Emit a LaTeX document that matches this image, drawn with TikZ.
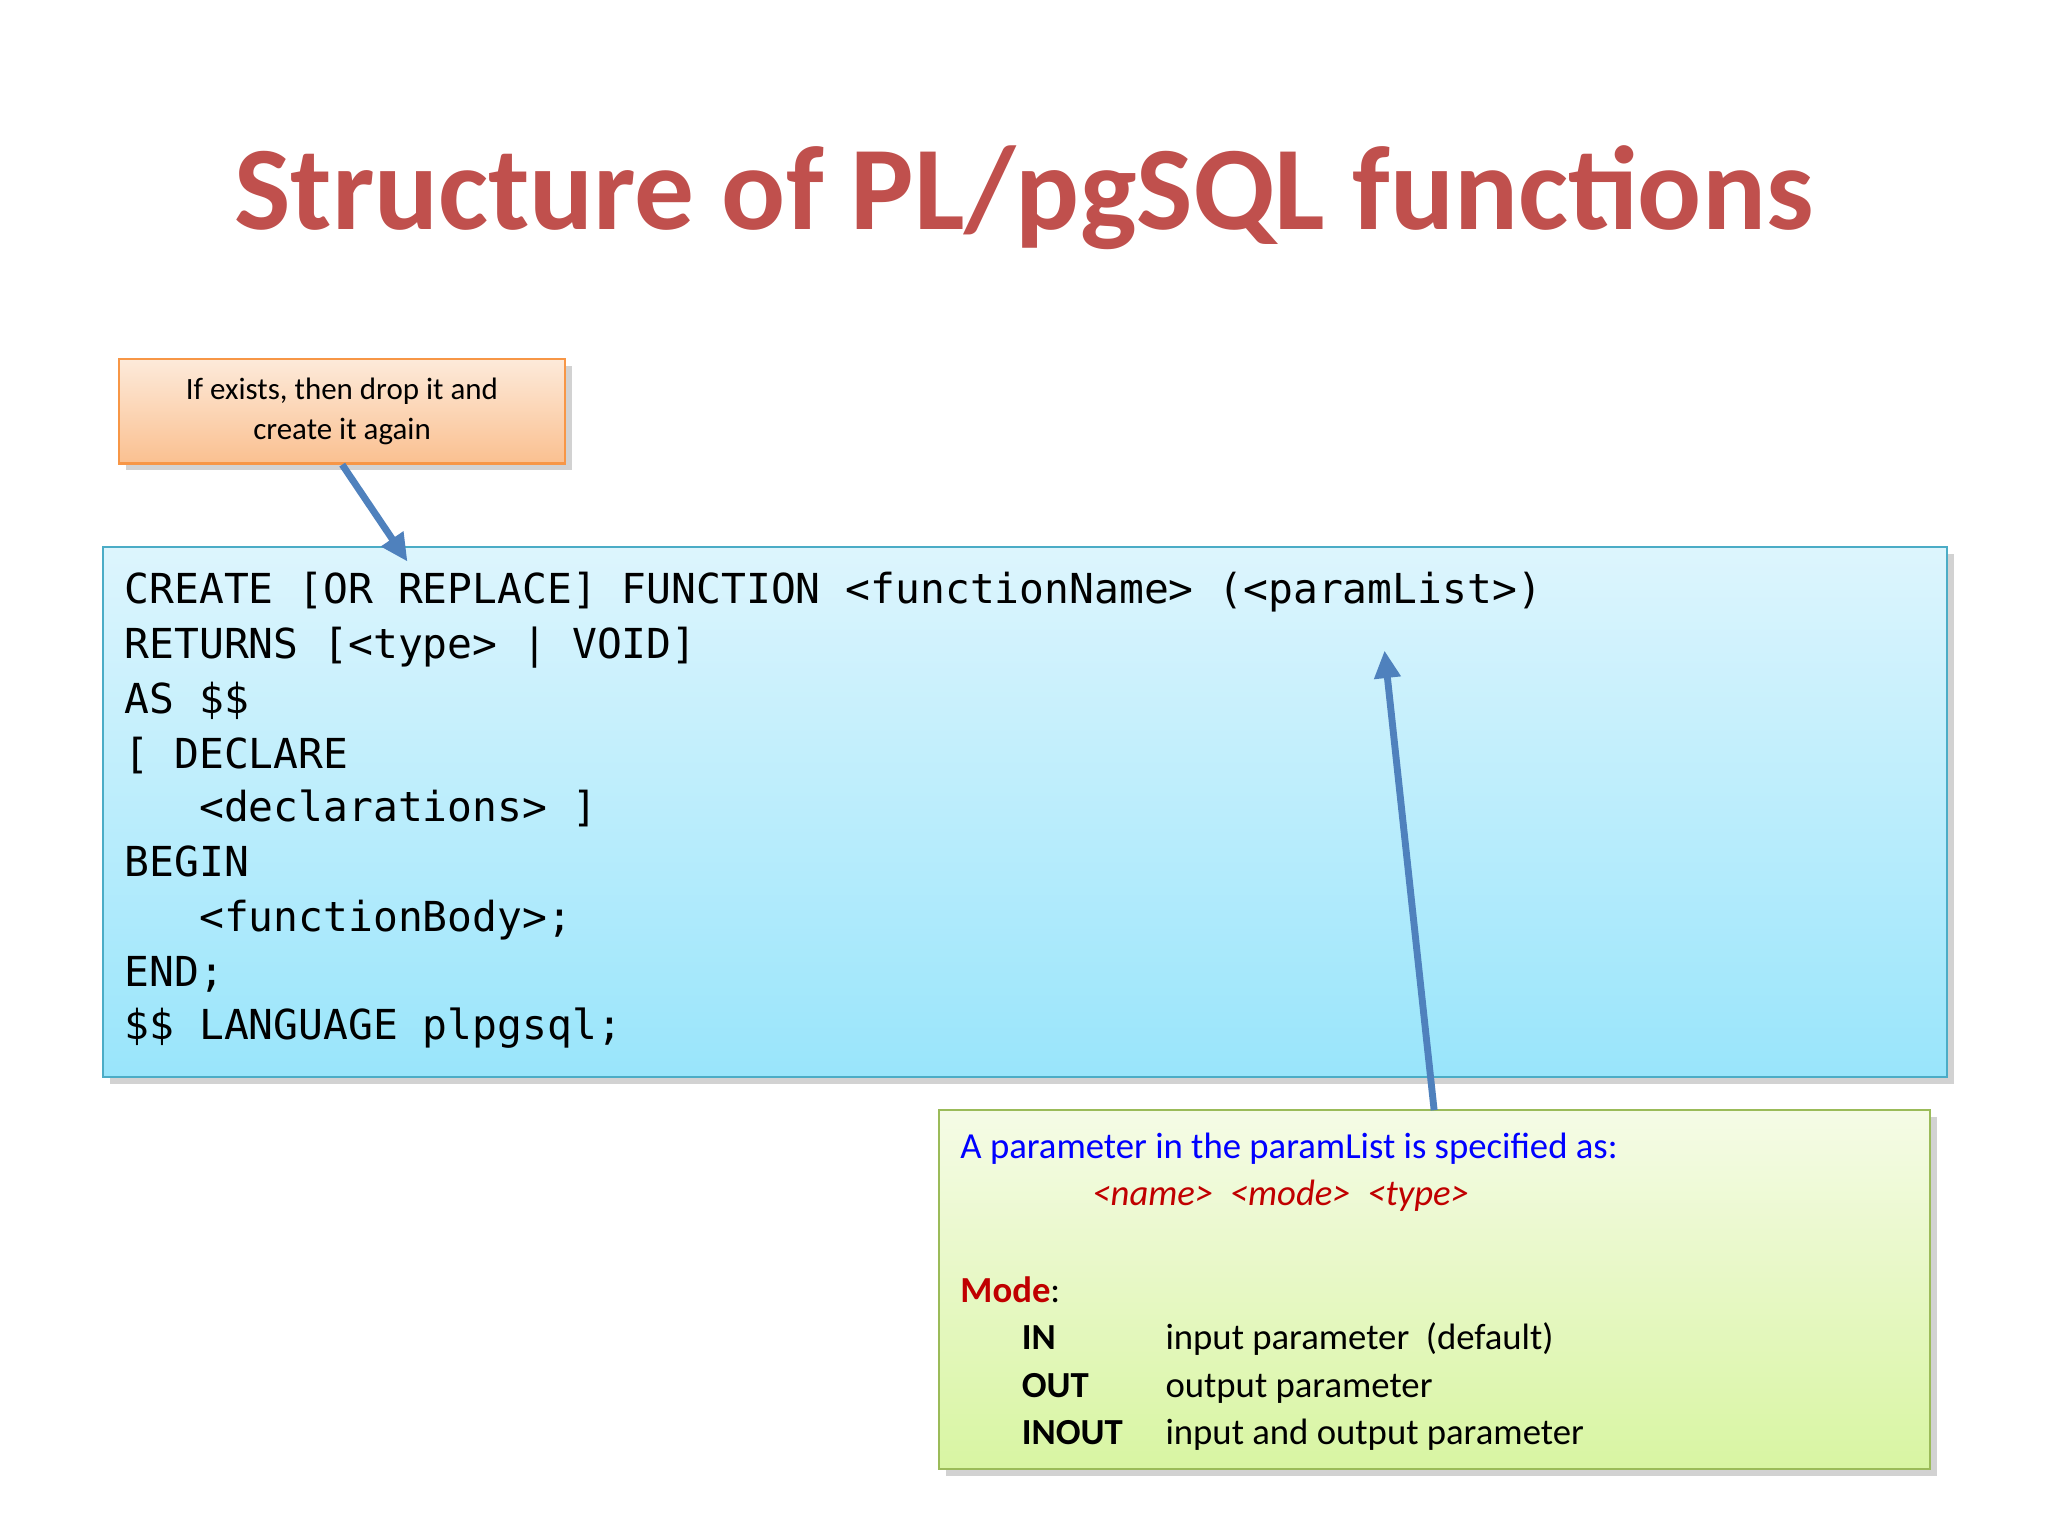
\documentclass[tikz,border=0pt]{standalone}
\usepackage{fontspec}
\setmainfont{Carlito}
\newfontfamily\codefont{DejaVu Sans Mono}
\usetikzlibrary{positioning,shadows,arrows.meta}
\definecolor{titlered}{RGB}{192,80,77}
\definecolor{arrowblue}{RGB}{79,129,189}
\definecolor{modered}{RGB}{192,0,0}
\tikzset{
  box/.style={draw, line width=1pt, rectangle, anchor=north west, inner sep=0pt,
    drop shadow={shadow xshift=3pt, shadow yshift=-3pt, opacity=0.35}},
  note/.style={box, draw={rgb,255:red,247;green,150;blue,70},
    top color={rgb,255:red,253;green,234;blue,218}, bottom color={rgb,255:red,250;green,192;blue,144}},
  codebox/.style={box, draw={rgb,255:red,75;green,172;blue,198},
    top color={rgb,255:red,221;green,245;blue,253}, bottom color={rgb,255:red,153;green,229;blue,251}},
  infobox/.style={box, draw={rgb,255:red,155;green,187;blue,89},
    top color={rgb,255:red,245;green,251;blue,230}, bottom color={rgb,255:red,216;green,245;blue,162}},
  codeline/.style={anchor=base west, inner sep=0pt, font=\codefont\fontsize{18}{18}\selectfont},
  infoline/.style={anchor=base west, inner sep=0pt, font=\fontsize{16}{16}\selectfont},
  pointer/.style={draw=arrowblue, line width=3pt, -{Triangle[length=12pt,width=11pt]}}
}
\begin{document}
\begin{tikzpicture}[x=0.02cm, y=-0.02cm]
    \useasboundingbox (0,0) rectangle (1568,1176);
    \fill[white] (0,0) rectangle (1568,1176);

    % title
    \node[text=titlered, font=\bfseries\fontsize{52}{52}\selectfont, anchor=base] (title) at (784,176)
        {Structure of PL/pgSQL functions};

    % boxes
    \node[note, minimum width=6.84cm, minimum height=1.6cm] (drop) at (90,274) {};
    \node[align=center, font=\fontsize{13.5}{17.5}\selectfont] (droptext) at (drop.center)
        {If exists, then drop it and\\create it again};
    \node[codebox, minimum width=28.24cm, minimum height=8.12cm] (code) at (78,418) {};
    \node[infobox, minimum width=15.18cm, minimum height=5.5cm] (info) at (718,849) {};

    % code
    \node[codeline] (c1) at (95,462) {CREATE [OR REPLACE] FUNCTION <functionName> (<paramList>)};
    \node[codeline] (c2) at (95,504) {RETURNS [<type> | VOID]};
    \node[codeline] (c3) at (95,546) {AS \$\$};
    \node[codeline] (c4) at (95,588) {[ DECLARE};
    \node[codeline] (c5) at (95,629) {\ \ \ <declarations> ]};
    \node[codeline] (c6) at (95,671) {BEGIN};
    \node[codeline] (c7) at (95,713) {\ \ \ <functionBody>;};
    \node[codeline] (c8) at (95,755) {END;};
    \node[codeline] (c9) at (95,796) {\$\$ LANGUAGE plpgsql;};

    % parameter notes
    \node[infoline, text=blue] (p1) at (735,887) {A parameter in the paramList is specified as:};
    \node[infoline, text=modered, font=\itshape\fontsize{16}{16}\selectfont] (p2) at (836,923)
        {<name>\ \ <mode>\ \ <type>};
    \node[infoline] (m0) at (735,997) {\textcolor{modered}{\textbf{Mode}}:};
    \node[infoline, font=\bfseries\fontsize{16}{16}\selectfont] (m1) at (782,1033) {IN};
    \node[infoline, font=\bfseries\fontsize{16}{16}\selectfont] (m2) at (782,1070) {OUT};
    \node[infoline, font=\bfseries\fontsize{16}{16}\selectfont] (m3) at (782,1106) {INOUT};
    \node[infoline] (d1) at (892,1033) {input parameter\ \ (default)};
    \node[infoline] (d2) at (892,1070) {output parameter};
    \node[infoline] (d3) at (892,1106) {input and output parameter};

    % arrows
    \coordinate (droptip) at (312,430);
    \coordinate (infostart) at (1098,850);
    \coordinate (paramtip) at (1060,498);
    \draw[pointer] (drop.south -| 262,0) -- (droptip);
    \draw[pointer] (infostart) -- (paramtip);
\end{tikzpicture}
\end{document}
